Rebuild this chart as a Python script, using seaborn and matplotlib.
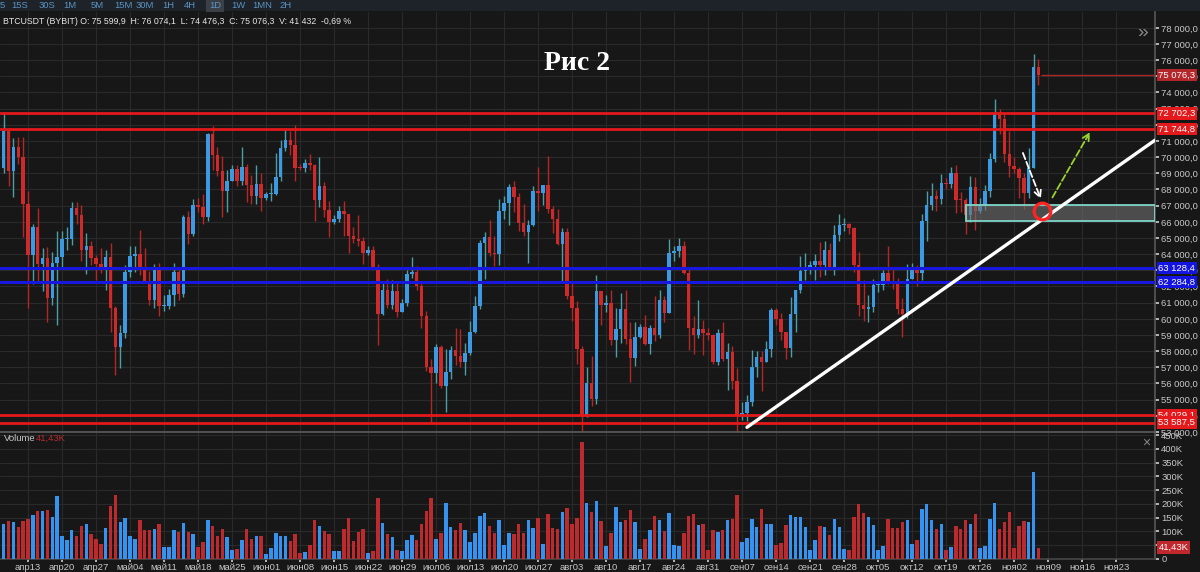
import numpy as np
import pandas as pd
import matplotlib
matplotlib.use("Agg")
import matplotlib.pyplot as plt
import matplotlib.dates as mdates
from matplotlib import font_manager as fm
from matplotlib.patches import Rectangle
import seaborn as sns

# Дневные свечи BTCUSDT (Bybit), 8 апр - 7 ноя 2024
start_date = "2024-04-08"
first_open = 69360

close = [
    # апр
    71620, 69150, 70630, 70010, 67120, 63920, 65660, 63420, 63790, 61280, 63470, 63820,
    64940, 64960, 66840, 66410, 64280, 64480, 63760, 63420, 63110, 63840, 60640,
    # май
    58250, 59120, 62890, 63890, 64030, 63160, 62330, 61190, 63050, 60790, 60800, 61450,
    62900, 61550, 66270, 65230, 67050, 66940, 66280, 71450, 70140, 69120, 67930, 68530,
    69270, 68520, 69390, 68300, 67580, 68360, 67490,
    # июн
    67710, 67750, 68800, 70570, 71080, 70760, 69340, 69310, 69650, 69500, 67320, 68240,
    66760, 66010, 66190, 66640, 66490, 65140, 64960, 64830, 64100, 64250, 63180, 60280,
    61800, 60860, 61710, 60430, 60990, 62770,
    # июл
    62900, 62030, 60170, 57030, 56660, 58240, 55860, 56710, 58050, 57720, 57340, 57890,
    59200, 60800, 64720, 65040, 64090, 63990, 66660, 67140, 68160, 67530, 65940, 65370,
    65780, 67910, 67810, 68260, 66820, 66200, 64620,
    # авг
    65360, 61420, 60680, 58120, 53990, 56030, 55030, 61710, 60880, 60950, 58720, 59350,
    60610, 58740, 57560, 58870, 59490, 58430, 59440, 59010, 61160, 60380, 64090, 64180,
    64530, 62830, 59420, 59030, 59390, 59120, 58970,
    # сен
    57300, 59130, 57490, 57970, 56160, 53960, 54160, 54870, 57040, 57630, 57340, 58130,
    60570, 60010, 59180, 58190, 60310, 61760, 62950, 63200, 63350, 63580, 63340, 64260,
    63140, 65180, 65790, 65890, 65640, 63330,
    # окт
    60840, 60630, 60760, 62070, 62090, 62820, 62240, 62130, 60580, 60280, 62450, 63190,
    62850, 66050, 67040, 67610, 67400, 68420, 68360, 69000, 67370, 67360, 66430, 68160,
    66640, 67010, 67930, 69910, 72720, 72340, 70220,
    # ноя
    69480, 69290, 68740, 67810, 69360, 75600, 75076.3,
]

high = [
    72800, 71760, 71200, 71260, 71260, 67930, 65840, 66870, 64360, 64470, 64120, 65450,
    65420, 65700, 67200, 67200, 67070, 65290, 64800, 63920, 64360, 64230, 64700,
    60780, 59600, 63300, 64500, 64500, 65500, 64400, 62950, 63400, 63450, 61500, 61820,
    63450, 63100, 66440, 66700, 67400, 67450, 67700, 71500, 71950, 70630, 70080, 69200,
    69500, 69500, 70600, 69550, 68900, 69500, 69000,
    67860, 68400, 70270, 71050, 71740, 71600, 72000, 69580, 69900, 70170, 69560, 70000,
    68450, 67300, 66400, 66950, 67260, 66490, 65700, 66450, 65050, 64520, 64500, 63370,
    62300, 62480, 62400, 62200, 61200, 63050,
    63800, 63240, 62270, 60470, 57520, 58470, 58370, 58150, 58300, 59420, 59400, 58500,
    59850, 61420, 64900, 65370, 66100, 65100, 67400, 67600, 68370, 68500, 67800, 67100,
    66100, 68220, 69400, 68300, 70080, 66990, 66800,
    65600, 65600, 62200, 61100, 58300, 57000, 57700, 62700, 61750, 61450, 61800, 60700,
    61570, 61800, 59800, 59800, 59700, 60250, 59600, 61400, 61800, 61400, 64950, 64500,
    65000, 64800, 63200, 60200, 61150, 59900, 59450,
    59050, 59400, 59800, 58500, 58300, 56980, 54850, 55300, 58100, 58040, 57980, 58600,
    60650, 60650, 60380, 59200, 61330, 61780, 63880, 64100, 63560, 64000, 64750, 64800,
    64700, 65830, 66500, 66250, 65920, 65700,
    64140, 62400, 61470, 62480, 62370, 63000, 64500, 63200, 62550, 61300, 63400, 63480,
    63300, 66500, 67900, 68400, 67940, 68980, 68700, 69420, 69500, 67850, 67450, 68850,
    68770, 67450, 68300, 70250, 73620, 72950, 72700,
    71600, 70000, 69400, 69000, 70550, 76400, 76074.1,
]

low = [
    69040, 68210, 67520, 69560, 65090, 60660, 62130, 62300, 61700, 59780, 60830, 59600,
    63170, 64280, 64550, 65860, 63590, 62790, 63300, 62400, 62810, 61800, 59190,
    56550, 56940, 58800, 62600, 62900, 62700, 62250, 60880, 60650, 60150, 60500, 60610,
    60770, 61150, 61330, 64600, 65100, 66600, 65850, 66060, 69200, 68850, 66300, 66600,
    68500, 68200, 68250, 67250, 67120, 67130, 66670,
    67380, 67300, 67630, 68550, 70380, 70120, 68500, 69200, 69100, 69220, 66080, 66900,
    66300, 65050, 65870, 66020, 65100, 64080, 64700, 64500, 63400, 63950, 63180, 58400,
    60250, 60700, 60600, 60100, 60400, 60800,
    62500, 61770, 59420, 56770, 53490, 56040, 55750, 54260, 56300, 57150, 57050, 56530,
    57760, 59150, 60630, 62450, 63900, 63250, 63300, 66200, 65800, 66600, 65450, 65110,
    63440, 65750, 66700, 67050, 66570, 65300, 64550,
    62300, 61200, 59850, 57200, 49100, 53950, 54600, 54750, 59600, 60400, 58400, 57650,
    58500, 58450, 56100, 57100, 58800, 58400, 57850, 58600, 58800, 59800, 60350, 63550,
    63800, 62800, 58100, 57850, 58800, 57750, 58700,
    57200, 57120, 57400, 55600, 55650, 52550, 53740, 53650, 54600, 56400, 55550, 57330,
    57630, 59600, 58700, 57500, 57630, 59200, 61600, 62400, 62800, 62400, 62600, 62700,
    62990, 62690, 64800, 65440, 65220, 62900,
    60150, 59840, 59800, 60450, 61650, 61800, 62170, 61850, 60300, 58900, 60050, 62450,
    62000, 62400, 64800, 66750, 66700, 67100, 68000, 68100, 66550, 66600, 65250, 66000,
    65500, 66550, 66750, 67550, 69730, 71450, 69700,
    68800, 69050, 67480, 66820, 67470, 69300, 74476.3,
]

# объём, тыс. BTC
volume_k = [
    128, 138, 134, 116, 138, 144, 160, 173, 174, 179, 152, 228, 84, 70, 106, 82, 118, 126,
    92, 72, 55, 113, 194,
    232, 133, 149, 84, 73, 140, 104, 104, 109, 128, 45, 45, 104, 99, 131, 98, 89, 45, 60,
    143, 118, 84, 109, 79, 33, 38, 70, 109, 73, 84, 82,
    18, 40, 94, 83, 82, 67, 92, 23, 26, 50, 143, 121, 101, 92, 28, 30, 109, 148, 67, 99,
    109, 21, 30, 221, 129, 89, 79, 33, 30, 70,
    87, 70, 126, 174, 223, 73, 96, 205, 116, 107, 129, 106, 62, 94, 156, 166, 120, 94,
    140, 52, 94, 89, 128, 93, 142, 111, 148, 56, 162, 112, 110,
    170, 184, 128, 150, 423, 203, 170, 211, 137, 49, 94, 187, 134, 140, 179, 133, 38, 72,
    106, 155, 142, 100, 167, 52, 49, 93, 155, 162, 124, 126, 32,
    105, 99, 106, 143, 145, 231, 60, 78, 146, 117, 182, 128, 128, 50, 57, 122, 160, 154,
    152, 115, 31, 70, 118, 115, 88, 145, 115, 36, 32, 153,
    199, 168, 151, 125, 33, 48, 147, 112, 112, 136, 140, 54, 70, 180, 199, 142, 108, 128,
    32, 45, 119, 108, 141, 128, 164, 40, 47, 146, 202, 110, 135,
    169, 39, 119, 137, 135, 314, 41.43,
]

red_levels = [72702.3, 71744.8, 54029.1, 53587.5]
blue_levels = [63128.4, 62284.8]
last_price = 75076.3
zone_low, zone_high = 66070, 67050
zone_start = "2024-10-23"
trend_dates = ["2024-09-08", "2024-12-01"]
trend_prices = [53290, 71050]

week_labels = ["апр13", "апр20", "апр27", "май04", "май11", "май18", "май25", "июн01",
               "июн08", "июн15", "июн22", "июн29", "июл06", "июл13", "июл20", "июл27",
               "авг03", "авг10", "авг17", "авг24", "авг31", "сен07", "сен14", "сен21",
               "сен28", "окт05", "окт12", "окт19", "окт26", "ноя02", "ноя09", "ноя16",
               "ноя23"]
timeframes = ["5", "15S", "30S", "1M", "5M", "15M", "30M", "1H", "4H", "1D", "1W", "1MN", "2H"]
info_line = "BTCUSDT (BYBIT) O: 75 599,9  H: 76 074,1  L: 74 476,3  C: 75 076,3  V: 41 432  -0,69 %"

# ---------------------------------------------------------------
BG = "#171717"
sns.set_theme(style="dark", rc={
    "axes.facecolor": BG, "figure.facecolor": BG, "savefig.facecolor": BG,
    "grid.color": "#2a2a2a", "axes.edgecolor": "#555555",
    "text.color": "#d0d0d0", "xtick.color": "#c8c8c8", "ytick.color": "#c8c8c8",
    "patch.edgecolor": "none",
})

# узкий шрифт, если есть
UI_FONT = "Liberation Sans"
try:
    fm.findfont(fm.FontProperties(family="Liberation Sans Narrow"), fallback_to_default=False)
    UI_FONT = "Liberation Sans Narrow"
except Exception:
    pass
plt.rcParams["font.family"] = [UI_FONT, "DejaVu Sans"]
NARROW = UI_FONT.endswith("Narrow")
FS = 8.1 if NARROW else 6.8

W, H = 1200, 572
fig = plt.figure(figsize=(12, 5.72), dpi=100)
ax = fig.add_axes([0, 1 - 432 / H, 1155 / W, 420 / H])
axv = fig.add_axes([0, 1 - 559 / H, 1155 / W, 127 / H])

dates = pd.date_range(start_date, periods=len(close), freq="D")
x = mdates.date2num(dates)
c = np.array(close, float)
o = np.r_[first_open, c[:-1]]  # открытие = закрытие предыдущего дня
up = c >= o

x0 = mdates.date2num(pd.Timestamp("2024-04-13"))
xlim = (x0 - 5.77, x0 + 232.0)

# свечи
ax.vlines(x, low, high, colors=np.where(up, "#4f9ea6", "#b52727"), lw=1, zorder=3)
ax.bar(x, np.maximum(np.abs(c - o), 70), bottom=np.minimum(o, c), width=0.72,
       color=np.where(up, "#3b9ae1", "#cf2a2a"), edgecolor="none", linewidth=0, zorder=4)

# уровни
for lv in red_levels:
    ax.axhline(lv, color="#e3191c", lw=2, zorder=5)
for lv in blue_levels:
    ax.axhline(lv, color="#1717dd", lw=2.2, zorder=5)
ax.hlines(last_price, x[-1] + 0.5, xlim[1], color="#a82828", lw=1, zorder=5)

# зона
zs = mdates.date2num(pd.Timestamp(zone_start))
ax.add_patch(Rectangle((zs, zone_low), xlim[1] - zs, zone_high - zone_low,
                       facecolor="#707070", alpha=0.6, edgecolor="none", zorder=6))
ax.add_patch(Rectangle((zs, zone_low), xlim[1] - zs, zone_high - zone_low,
                       facecolor="none", edgecolor="#7fd6c8", lw=1.3, zorder=6))

# трендовая линия
tx = mdates.date2num(pd.to_datetime(trend_dates))
sns.lineplot(x=tx, y=trend_prices, ax=ax, color="white", lw=2.4, zorder=7)

# стрелки и круг
ax.annotate("", xy=(x0 + 208.7, 67250), xytext=(x0 + 204.6, 70420),
            arrowprops=dict(arrowstyle="->", color="white", lw=1.3, ls="--"), zorder=8)
ax.annotate("", xy=(x0 + 218.9, 71700), xytext=(x0 + 210.6, 67360),
            arrowprops=dict(arrowstyle="->", color="#9ad22c", lw=1.3, ls="--"), zorder=8)
ax.plot([x0 + 208.8], [66690], marker="o", ms=12, mfc="none", mec="#ff2222", mew=2.3, zorder=9)

ax.set_xlim(xlim)
ax.set_ylim(53291, 78979)
yt = np.arange(53000, 79000, 1000)
ax.set_yticks(yt)
ax.set_yticklabels([f"{v:,.1f}".replace(",", " ").replace(".", ",") for v in yt])
ax.yaxis.tick_right()
ax.tick_params(axis="y", labelsize=FS, length=3, pad=1.5, colors="#c8c8c8", right=True)
ticks = mdates.date2num(pd.date_range("2024-04-13", periods=len(week_labels), freq="7D"))
ax.set_xticks(ticks)
ax.tick_params(axis="x", labelbottom=False, length=0)
ax.grid(True, color="#2a2a2a", lw=0.8)
ax.set_ylabel("")
for s in ["left", "top", "bottom"]:
    ax.spines[s].set_visible(False)
ax.spines["right"].set_color("#555555")


def price_tag(axis, y, text, fc):
    axis.text(1.003, y, text, transform=axis.get_yaxis_transform(), ha="left", va="center",
              fontsize=FS, color="white", zorder=20, clip_on=False,
              bbox=dict(boxstyle="square,pad=0.18", fc=fc, ec="none"))


def fmt(v):
    return f"{v:,.1f}".replace(",", " ").replace(".", ",")


for lv in red_levels:
    price_tag(ax, lv, fmt(lv), "#e3191c")
for lv in blue_levels:
    price_tag(ax, lv, fmt(lv), "#1414e0")
price_tag(ax, last_price, fmt(last_price), "#b3272b")

# объём
vol_df = pd.DataFrame({"x": x, "vol": np.array(volume_k) * 1000,
                       "dir": np.where(up, "up", "down")})
sns.barplot(data=vol_df, x="x", y="vol", hue="dir", palette={"up": "#3592ef", "down": "#bb2a2d"},
            native_scale=True, dodge=False, width=0.72, errorbar=None, legend=False,
            saturation=1, linewidth=0, ax=axv, zorder=3)
axv.set_xlim(xlim)
axv.set_ylim(0, 461000)
axv.set_yticks(np.arange(0, 450001, 50000))
axv.set_yticklabels(["0"] + [f"{v // 1000}K" for v in range(50000, 450001, 50000)])
axv.yaxis.tick_right()
axv.tick_params(axis="y", labelsize=FS, length=3, pad=1.5, colors="#c8c8c8", right=True)
axv.set_xticks(ticks)
axv.set_xticklabels(week_labels)
axv.tick_params(axis="x", labelsize=FS, length=2, pad=1, colors="#c8c8c8", bottom=True)
axv.grid(True, color="#2a2a2a", lw=0.8)
axv.set_xlabel("")
axv.set_ylabel("")
axv.spines["left"].set_visible(False)
axv.spines["top"].set_color("#5a5a5a")
axv.spines["bottom"].set_color("#444444")
axv.spines["right"].set_color("#555555")
price_tag(axv, 41430, "41,43K", "#c0282d")
axv.text(0.003, 0.985, "Volume", transform=axv.transAxes, va="top", fontsize=FS, color="#c8c8c8")
axv.text(0.031, 0.985, "41,43K", transform=axv.transAxes, va="top", fontsize=FS, color="#b82a2d")
axv.text(0.996, 0.975, "×", transform=axv.transAxes, va="top", ha="right", fontsize=10, color="#888888")

# шапка
fig.patches.append(Rectangle((0, 1 - 11 / H), 1, 11 / H, transform=fig.transFigure,
                             facecolor="#1d2329", edgecolor="none", zorder=0))
tf_pos = [2, 20, 47, 70, 97, 123, 145, 168, 190, 215, 238, 262, 286]
for lab, px in zip(timeframes, tf_pos):
    kw = {}
    if lab == "1D":
        kw = dict(bbox=dict(boxstyle="square,pad=0.3", fc="#3a4046", ec="none"))
    fig.text(px / W, 1 - 5 / H, lab, ha="center", va="center", fontsize=FS, color="#5b93c2", **kw)
fig.text(3 / W, 1 - 21 / H, info_line, ha="left", va="center", fontsize=FS - 0.5, color="#e6e6e6")
fig.text(1143 / W, 1 - 33 / H, "»", ha="center", va="center", fontsize=14, color="#8a8a8a")
fig.text(577 / W, 1 - 64 / H, "Рис 2", ha="center", va="center", fontsize=20,
         family="Liberation Serif", weight="bold", color="white")

fig.savefig("out.png", dpi=100)
